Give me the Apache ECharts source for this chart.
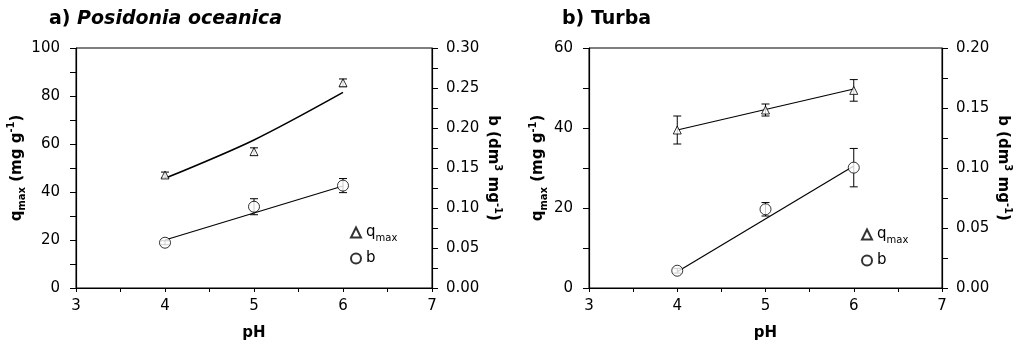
<!DOCTYPE html>
<html>
<head>
<meta charset="utf-8">
<script src="https://cdn.jsdelivr.net/npm/echarts@6/dist/echarts.min.js"></script>
<style>
  html, body { margin: 0; padding: 0; background: #fff; }
  #chart { width: 1017px; height: 348px; }
</style>
</head>
<body>
<div id="chart"></div>
<script>
// pH values where measurements were taken
const ph = [4, 5, 6];

// a) Posidonia oceanica
const qmaxA = [47.1, 56.8, 85.5];
const qmaxErrA = [1.2, 1.6, 1.6];
const qmaxFitA = [45.7, 61.7, 81.5];
const bA = [0.0566, 0.1016, 0.128];
const bErrA = [0.0025, 0.010, 0.0088];
const bFitPhA = [4, 6];
const bFitA = [0.060, 0.1275];

// b) Turba
const qmaxB = [39.5, 44.5, 49.4];
const qmaxErrB = [3.5, 1.5, 2.7];
const qmaxFitPhB = [4, 6];
const qmaxFitB = [39.5, 49.75];
const bB = [0.0144, 0.0656, 0.1003];
const bErrB = [0.002, 0.0056, 0.016];
const bFitPhB = [4, 6];
const bFitB = [0.0136, 0.1017];

const FONT = 'DejaVu Sans';
const INK = '#000';

const nameRich = {
  t: { fontFamily: FONT, fontSize: 15, fontWeight: 'bold', color: INK, lineHeight: 21 },
  sub: { fontFamily: FONT, fontSize: 10, fontWeight: 'bold', color: INK, lineHeight: 11, verticalAlign: 'bottom' },
  sup: { fontFamily: FONT, fontSize: 10, fontWeight: 'bold', color: INK, lineHeight: 11, verticalAlign: 'top' }
};
const qName = '{t|q}{sub|max}{t| (mg g}{sup|-1}{t|)}';
const bName = '{t|b (dm}{sup|3}{t| mg}{sup|-1}{t|)}';

const grids = [
  { left: 76, top: 48, width: 356, height: 240 },
  { left: 589, top: 48, width: 353, height: 240 }
];

function xAxes(gi) {
  const base = {
    type: 'value', gridIndex: gi, min: 3, max: 7, interval: 1,
    splitLine: { show: false },
    axisLine: { onZero: false, lineStyle: { color: INK, width: 1.2 } },
    minorTick: { show: true, splitNumber: 2, length: 4, lineStyle: { color: INK } },
    axisTick: { length: 4, lineStyle: { color: INK } }
  };
  return [
    {
      ...base,
      name: 'pH', nameLocation: 'middle', nameGap: 38,
      nameTextStyle: { fontFamily: FONT, fontSize: 15, fontWeight: 'bold', color: INK },
      axisLabel: { fontFamily: FONT, fontSize: 15, color: INK, margin: 11 }
    },
    {
      ...base,
      axisLine: { show: false },
      axisTick: { inside: true, length: 4, lineStyle: { color: INK } },
      minorTick: { show: true, splitNumber: 2, length: 4, lineStyle: { color: INK } },
      axisLabel: { show: false }
    }
  ];
}

function yAxis(gi, side, max, interval, name, gap, fmt) {
  return {
    type: 'value', gridIndex: gi, position: side, min: 0, max, interval,
    name, nameLocation: 'middle', nameGap: gap,
    nameRotate: side === 'left' ? 90 : -90,
    nameTextStyle: { rich: nameRich },
    splitLine: { show: false },
    axisLine: { show: true, onZero: false, lineStyle: { color: INK, width: 1.2 } },
    axisTick: { show: true, length: 6, lineStyle: { color: INK } },
    minorTick: { show: true, splitNumber: 2, length: 6, lineStyle: { color: INK } },
    axisLabel: { fontFamily: FONT, fontSize: 15, color: INK, margin: side === 'left' ? 16 : 14, formatter: fmt }
  };
}

function errorBars(xi, yi, vals, errs) {
  return {
    type: 'custom', xAxisIndex: xi, yAxisIndex: yi, silent: true, z: 2,
    data: ph.map((x, i) => [x, vals[i] + errs[i], vals[i] - errs[i]]),
    renderItem: (params, api) => {
      const hi = api.coord([api.value(0), api.value(1)]);
      const lo = api.coord([api.value(0), api.value(2)]);
      const w = 4;
      const st = { stroke: INK, lineWidth: 1 };
      return {
        type: 'group',
        children: [
          { type: 'line', shape: { x1: hi[0], y1: hi[1], x2: lo[0], y2: lo[1] }, style: st },
          { type: 'line', shape: { x1: hi[0] - w, y1: hi[1], x2: hi[0] + w, y2: hi[1] }, style: st },
          { type: 'line', shape: { x1: lo[0] - w, y1: lo[1], x2: lo[0] + w, y2: lo[1] }, style: st }
        ]
      };
    }
  };
}

function fitLine(xi, yi, xs, ys, smooth) {
  return {
    type: 'line', xAxisIndex: xi, yAxisIndex: yi, name: 'fit', smooth: smooth ? 0.3 : false,
    symbol: 'none', silent: true, z: 3,
    lineStyle: { color: INK, width: smooth ? 1.6 : 1.2 },
    data: xs.map((x, i) => [x, ys[i]])
  };
}

function points(name, xi, yi, vals, symbol, size) {
  return {
    type: 'scatter', name, xAxisIndex: xi, yAxisIndex: yi, symbol, symbolSize: size, z: 4,
    itemStyle: { color: '#fff', borderColor: INK, borderWidth: 1 },
    data: ph.map((x, i) => [x, vals[i]])
  };
}

function legend(left, top) {
  return {
    left, top, orient: 'vertical', padding: 0, itemGap: 8,
    itemWidth: 10, itemHeight: 10, selectedMode: false,
    data: ['qmax', 'b'],
    formatter: n => n === 'qmax' ? '{q|q}{s|max}' : '{q|b}',
    textStyle: {
      rich: {
        q: { fontFamily: FONT, fontSize: 15, color: INK, lineHeight: 21 },
        s: { fontFamily: FONT, fontSize: 10, color: INK, lineHeight: 11, verticalAlign: 'bottom' }
      }
    }
  };
}

const fmt2 = v => v.toFixed(2);

const chart = echarts.init(document.getElementById('chart'), null, { renderer: 'canvas' });
chart.setOption({
  backgroundColor: '#fff',
  animation: false,
  title: [
    {
      left: 44, top: 5,
      text: '{n|a) }{i|Posidonia oceanica}',
      textStyle: { rich: {
        n: { fontFamily: FONT, fontSize: 19, fontWeight: 'bold', color: INK },
        i: { fontFamily: FONT, fontSize: 19, fontWeight: 'bold', fontStyle: 'italic', color: INK }
      } }
    },
    {
      left: 557, top: 5,
      text: 'b) Turba',
      textStyle: { fontFamily: FONT, fontSize: 19, fontWeight: 'bold', color: INK }
    }
  ],
  grid: grids.map(g => ({ ...g, show: true, borderColor: INK, borderWidth: 1, backgroundColor: 'transparent' })),
  xAxis: [...xAxes(0), ...xAxes(1)],
  yAxis: [
    yAxis(0, 'left', 100, 20, qName, 48, null),
    yAxis(0, 'right', 0.3, 0.05, bName, 50, fmt2),
    yAxis(1, 'left', 60, 20, qName, 40, null),
    yAxis(1, 'right', 0.2, 0.05, bName, 50, fmt2)
  ],
  legend: [legend(350, 225), legend(861, 227)],
  series: [
    errorBars(0, 0, qmaxA, qmaxErrA),
    fitLine(0, 0, ph, qmaxFitA, true),
    points('qmax', 0, 0, qmaxA, 'triangle', 8),
    errorBars(0, 1, bA, bErrA),
    fitLine(0, 1, bFitPhA, bFitA, false),
    points('b', 0, 1, bA, 'circle', 11),

    errorBars(2, 2, qmaxB, qmaxErrB),
    fitLine(2, 2, qmaxFitPhB, qmaxFitB, false),
    points('qmax', 2, 2, qmaxB, 'triangle', 8),
    errorBars(2, 3, bB, bErrB),
    fitLine(2, 3, bFitPhB, bFitB, false),
    points('b', 2, 3, bB, 'circle', 11)
  ]
});
</script>
</body>
</html>
